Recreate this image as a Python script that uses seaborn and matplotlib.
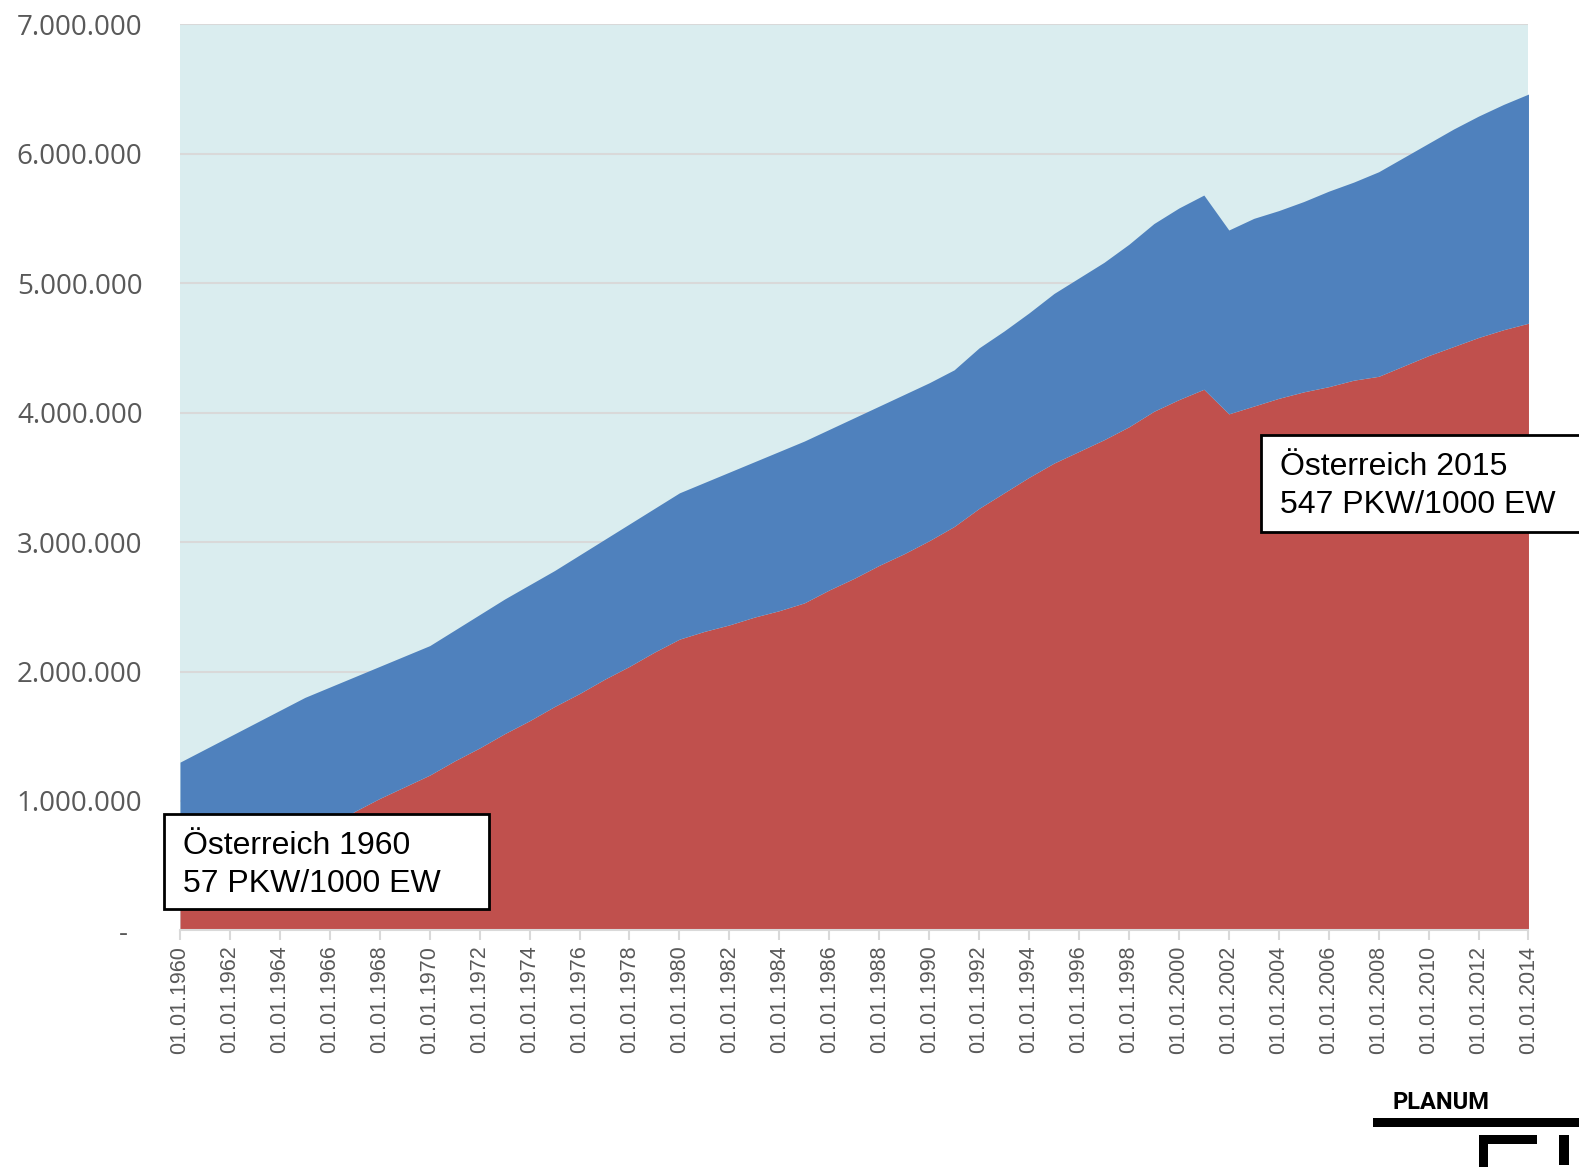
import numpy as np
import matplotlib
matplotlib.use("Agg")
import matplotlib.pyplot as plt
import seaborn as sns
from matplotlib.patches import Rectangle

# Jahre 1960-2014 (jeweils 01.01.)
years = list(range(1960, 2015))

# PKW-Bestand (Mio.) - rote Flaeche
pkw = [0.40, 0.46, 0.53, 0.59, 0.66, 0.72, 0.80, 0.92, 1.02, 1.11,
       1.20, 1.31, 1.41, 1.52, 1.62, 1.73, 1.83, 1.94, 2.04, 2.15,
       2.25, 2.31, 2.36, 2.42, 2.47, 2.53, 2.63, 2.72, 2.82, 2.91,
       3.01, 3.12, 3.26, 3.38, 3.50, 3.61, 3.70, 3.79, 3.89, 4.01,
       4.10, 4.18, 3.99, 4.05, 4.11, 4.16, 4.20, 4.25, 4.28, 4.36,
       4.44, 4.51, 4.58, 4.64, 4.69]

# Kfz-Bestand gesamt (Mio.) - Oberkante der blauen Flaeche
kfz_total = [1.30, 1.40, 1.50, 1.60, 1.70, 1.80, 1.88, 1.96, 2.04, 2.12,
             2.20, 2.32, 2.44, 2.56, 2.67, 2.78, 2.90, 3.02, 3.14, 3.26,
             3.38, 3.46, 3.54, 3.62, 3.70, 3.78, 3.87, 3.96, 4.05, 4.14,
             4.23, 4.33, 4.50, 4.63, 4.77, 4.92, 5.04, 5.16, 5.30, 5.46,
             5.58, 5.68, 5.41, 5.50, 5.56, 5.63, 5.71, 5.78, 5.86, 5.97,
             6.08, 6.19, 6.29, 6.38, 6.46]

y_ticks = [0, 1_000_000, 2_000_000, 3_000_000, 4_000_000, 5_000_000, 6_000_000, 7_000_000]
y_labels = ["-  ", "1.000.000", "2.000.000", "3.000.000", "4.000.000",
            "5.000.000", "6.000.000", "7.000.000"]
x_ticks = list(range(1960, 2015, 2))
x_labels = [f"01.01.{y}" for y in x_ticks]

note_1960 = "Österreich 1960\n57 PKW/1000 EW"
note_2015 = "Österreich 2015\n547 PKW/1000 EW"

RED = "#C0504D"
BLUE = "#4F81BD"
BG = "#DAEDEF"
GRID = "#D9D9D9"
TXT = "#595959"

sns.set_theme(style="white")
plt.rcParams["font.family"] = ["Liberation Sans", "DejaVu Sans"]

pkw_abs = np.array(pkw) * 1e6
rest_abs = (np.array(kfz_total) - np.array(pkw)) * 1e6

fig = plt.figure(figsize=(15.79, 11.67), dpi=100)
ax = fig.add_axes([0.114, 0.2027, 0.854, 0.7766])
ax.set_facecolor(BG)
ax.stackplot(years, pkw_abs, rest_abs, colors=[RED, BLUE], linewidth=0, zorder=2)

ax.set_xlim(1960, 2014)
ax.set_ylim(0, 7_000_000)
ax.set_yticks(y_ticks)
ax.set_yticklabels(y_labels, fontsize=20, color=TXT, family=["Open Sans", "DejaVu Sans"])
ax.set_xticks(x_ticks)
ax.set_xticklabels(x_labels, rotation=90, fontsize=15.5, color=TXT)
ax.tick_params(axis="y", length=0, pad=27)
ax.tick_params(axis="x", length=7, width=1.5, color=GRID, direction="out", pad=4, bottom=True)

ax.grid(axis="y", color=GRID, linewidth=1.5, zorder=1)
ax.set_axisbelow(True)
for side in ["left", "right", "top"]:
    ax.spines[side].set_visible(False)
ax.spines["bottom"].set_color(GRID)
ax.spines["bottom"].set_linewidth(1.5)
ax.spines["bottom"].set_zorder(3)

# Anmerkungsboxen
W, H = 1579, 1167
def fx(px):
    return px / W
def fy(py):
    return 1 - py / H

fig.patches.append(Rectangle((fx(164), fy(909)), fx(489) - fx(164), fy(814) - fy(909),
                             transform=fig.transFigure, facecolor="white",
                             edgecolor="black", linewidth=2, zorder=5))
fig.text(fx(183), fy(865), note_1960, fontsize=23, color="black", va="center",
         ha="left", linespacing=1.33, zorder=6)

fig.patches.append(Rectangle((fx(1261), fy(532)), fx(1590) - fx(1261), fy(435) - fy(532),
                             transform=fig.transFigure, facecolor="white",
                             edgecolor="black", linewidth=2, zorder=5, clip_on=False))
fig.text(fx(1280), fy(486), note_2015, fontsize=23, color="black", va="center",
         ha="left", linespacing=1.33, zorder=6)

# Logo
fig.text(fx(1392), fy(1109), "PLANUM", fontsize=17, fontweight="bold", color="black",
         ha="left", va="baseline", family=["Roboto", "DejaVu Sans"])
fig.patches.append(Rectangle((fx(1373), fy(1127)), 1 - fx(1373), fy(1118) - fy(1127),
                             transform=fig.transFigure, facecolor="black", linewidth=0))
fig.patches.append(Rectangle((fx(1479), fy(1167)), fx(1488) - fx(1479), fy(1135) - fy(1167),
                             transform=fig.transFigure, facecolor="black", linewidth=0))
fig.patches.append(Rectangle((fx(1479), fy(1144)), fx(1537) - fx(1479), fy(1135) - fy(1144),
                             transform=fig.transFigure, facecolor="black", linewidth=0))
fig.patches.append(Rectangle((fx(1559), fy(1165)), fx(1569) - fx(1559), fy(1135) - fy(1165),
                             transform=fig.transFigure, facecolor="black", linewidth=0))

fig.savefig("out.png", dpi=100, facecolor="white")
